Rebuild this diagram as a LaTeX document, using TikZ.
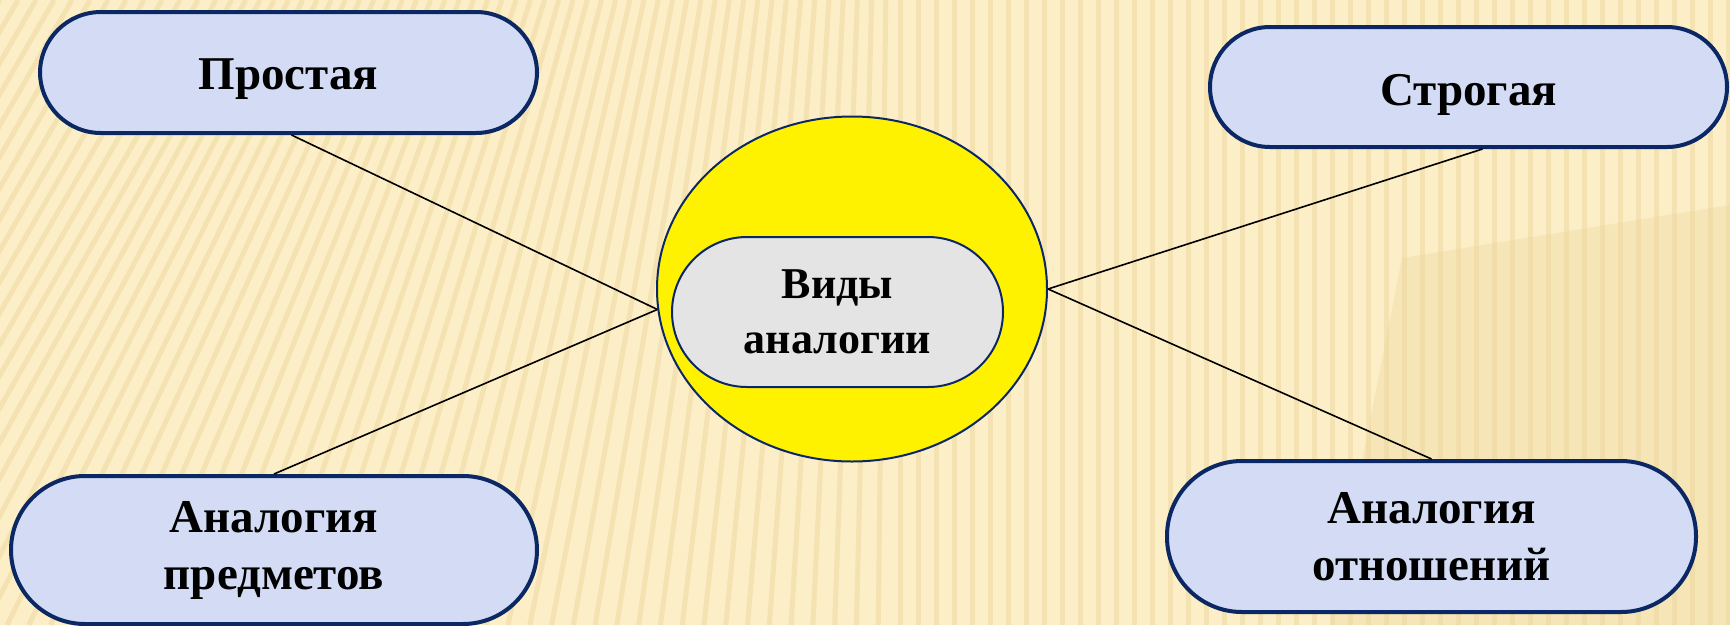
\documentclass[tikz,border=0pt]{standalone}
\usepackage{fontspec}
\setmainfont{Liberation Serif}
\usetikzlibrary{shapes.geometric,calc}
\definecolor{bgcream}{HTML}{FCEEC6}
\definecolor{stripecol}{HTML}{ECD49A}
\definecolor{darkzone}{HTML}{EED8A0}
\definecolor{pillfill}{HTML}{D3DCF4}
\definecolor{pillborder}{HTML}{0B2865}
\definecolor{grayfill}{HTML}{E4E4E4}
\tikzset{
  pillbox/.style={draw=pillborder, line width=4pt, fill=pillfill, rounded corners=#1,
    inner sep=0pt, align=center, font=\fontsize{47}{57}\selectfont\bfseries},
  stripeline/.style={draw=stripecol, line width=5pt, opacity=0.45},
  link/.style={draw=black, line width=1.6pt},
}
\begin{document}
\begin{tikzpicture}[x=1pt,y=-1pt]
\useasboundingbox (0,0) rectangle (1730,625);
% background
\fill[bgcream] (0,0) rectangle (1730,625);
\begin{scope}
\clip (0,0) rectangle (1730,625);
\fill[darkzone, opacity=0.4] (1330,625) -- (1402,258) -- (1730,205) -- (1730,625) -- cycle;
\foreach \i in {-30,...,100} {
  \pgfmathsetmacro\xm{\i*18}
  \pgfmathsetmacro\sh{min(360,max(0,(900-\xm)*0.42))}
  \draw[stripeline] (\xm-\sh/2,625) -- (\xm+\sh/2,0);
}
\end{scope}
% nodes
\node[pillbox=61pt, minimum width=497pt, minimum height=121pt] (p1) at (288.5,72.5) {\raisebox{-17pt}[0pt][0pt]{Простая}};
\node[pillbox=60pt, minimum width=517pt, minimum height=120pt] (p2) at (1468.5,87) {\raisebox{-18pt}[0pt][0pt]{Строгая}};
\node[pillbox=74pt, minimum width=526pt, minimum height=148pt] (p3) at (274,550) {Аналогия\\предметов};
\node[pillbox=75pt, minimum width=529pt, minimum height=151pt] (p4) at (1431.5,536.5) {Аналогия\\отношений};
\node[ellipse, draw=pillborder, line width=2pt, fill=yellow, minimum width=390pt, minimum height=345pt, inner sep=0pt] (c) at (852,289) {};
\node[draw=pillborder, line width=2pt, fill=grayfill, rounded corners=75pt, minimum width=331pt, minimum height=150pt, inner sep=0pt, align=center, font=\fontsize{44}{55}\selectfont\bfseries] (v) at (837.5,312) {Виды\\аналогии};
% connectors
\draw[link] ($(p1.south)+(3,0)$) -- (c.186);
\draw[link] (p3.north) -- (c.186);
\draw[link] ($(p2.south)+(14,0)$) -- (c.east);
\draw[link] (p4.north) -- (c.east);
\end{tikzpicture}
\end{document}
